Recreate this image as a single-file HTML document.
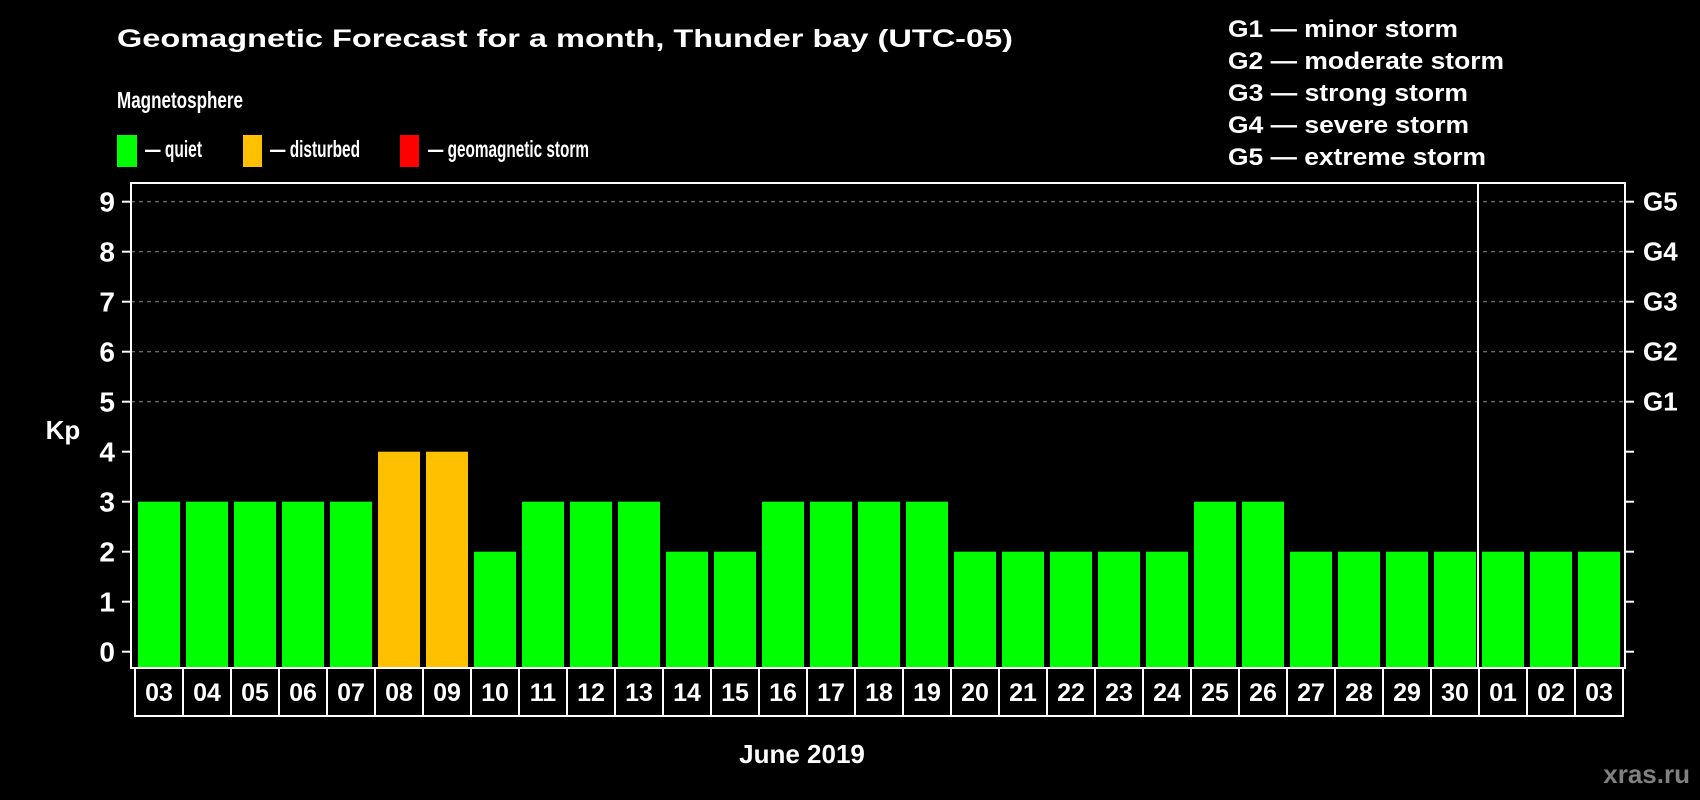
<!DOCTYPE html>
<html><head><meta charset="utf-8"><style>
html,body{margin:0;padding:0;background:#000;}
svg{display:block;font-family:"Liberation Sans",Arial,sans-serif;font-weight:bold;}
</style></head><body>
<svg id="chart" width="1700" height="800" viewBox="0 0 1700 800">
<text x="117" y="47" fill="#fff" font-size="25" textLength="896" lengthAdjust="spacingAndGlyphs">Geomagnetic Forecast for a month, Thunder bay (UTC-05)</text>
<text x="117" y="108" fill="#fff" font-size="23" textLength="126" lengthAdjust="spacingAndGlyphs">Magnetosphere</text>
<g><rect x="117" y="135" width="20" height="32" fill="#00ff00"/><text x="145" y="157" fill="#fff" font-size="23" textLength="57" lengthAdjust="spacingAndGlyphs">— quiet</text></g>
<g><rect x="243" y="135" width="19" height="32" fill="#ffc000"/><text x="270" y="157" fill="#fff" font-size="23" textLength="90" lengthAdjust="spacingAndGlyphs">— disturbed</text></g>
<g><rect x="400" y="135" width="19" height="32" fill="#ff0000"/><text x="428" y="157" fill="#fff" font-size="23" textLength="161" lengthAdjust="spacingAndGlyphs">— geomagnetic storm</text></g>
<g fill="#fff" font-size="24">
<text x="1228" y="37" textLength="230" lengthAdjust="spacingAndGlyphs">G1 — minor storm</text>
<text x="1228" y="69" textLength="276" lengthAdjust="spacingAndGlyphs">G2 — moderate storm</text>
<text x="1228" y="101" textLength="240" lengthAdjust="spacingAndGlyphs">G3 — strong storm</text>
<text x="1228" y="133" textLength="241" lengthAdjust="spacingAndGlyphs">G4 — severe storm</text>
<text x="1228" y="165" textLength="258" lengthAdjust="spacingAndGlyphs">G5 — extreme storm</text>
</g>
<g id="grid"></g><g id="bars"></g><g id="axes"></g>
<text x="63" y="439" fill="#fff" font-size="26" text-anchor="middle">Kp</text>
<text x="802" y="763" fill="#fff" font-size="26" text-anchor="middle">June 2019</text>
<text x="1690" y="783" fill="#808080" font-size="26" text-anchor="end">xras.ru</text>
</svg>
<script>
const days=["03","04","05","06","07","08","09","10","11","12","13","14","15","16","17","18","19","20","21","22","23","24","25","26","27","28","29","30","01","02","03"];
const kp=[3,3,3,3,3,4,4,2,3,3,3,2,2,3,3,3,3,2,2,2,2,2,3,3,2,2,2,2,2,2,2];
const yTicks=[0,1,2,3,4,5,6,7,8,9];
const gLabels=["G1","G2","G3","G4","G5"];
const monthBreakIndex=28;
const NS="http://www.w3.org/2000/svg";
const L=131,R=1625,T=183,B=668;
const y=v=>651.7-50*v;
const x=i=>135+48*i;
function mk(tag,attrs,parent){const e=document.createElementNS(NS,tag);for(const k in attrs)e.setAttribute(k,attrs[k]);parent.appendChild(e);return e;}
const grid=document.getElementById('grid'),bars=document.getElementById('bars'),axes=document.getElementById('axes');
yTicks.forEach(v=>{
  if(v>=5){const g=mk('line',{x1:L,x2:R,y1:y(v),y2:y(v),stroke:'#888','stroke-width':1,'stroke-dasharray':'4,4'},grid);
  
  }
  const t1=mk('line',{x1:122,x2:L,y1:y(v),y2:y(v),stroke:'#fff','stroke-width':2},axes);
  
  
  const t2=mk('line',{x1:R,x2:1634,y1:y(v),y2:y(v),stroke:'#fff','stroke-width':2},axes);
  
  
  const lb=mk('text',{x:115,y:y(v)+10,fill:'#fff','font-size':28,'text-anchor':'end'},axes);
  lb.textContent=v;
  
  
});
gLabels.forEach((g,i)=>{
  const t=mk('text',{x:1643,y:y(i+5)+9,fill:'#fff','font-size':26},axes);
  t.textContent=g;
  
  
});
kp.forEach((v,i)=>{
  const c=v>=5?'#ff0000':(v>=4?'#ffc000':'#00ff00');
  const r=mk('rect',{x:x(i)+3,y:y(v),width:42,height:B-y(v),fill:c},bars);
  
  
  const cell=mk('rect',{x:x(i),y:B,width:48,height:48,fill:'none',stroke:'#fff','stroke-width':2},axes);
  
  
  const t=mk('text',{x:x(i)+24,y:701,fill:'#fff','font-size':25,'text-anchor':'middle'},axes);
  t.textContent=days[i];
  
  
});
const fr=mk('rect',{x:L,y:T,width:R-L,height:B-T,fill:'none',stroke:'#fff','stroke-width':2},axes);


const mb=mk('line',{x1:x(monthBreakIndex)-1,x2:x(monthBreakIndex)-1,y1:T,y2:B,stroke:'#fff','stroke-width':2},axes);


</script>
</body></html>
